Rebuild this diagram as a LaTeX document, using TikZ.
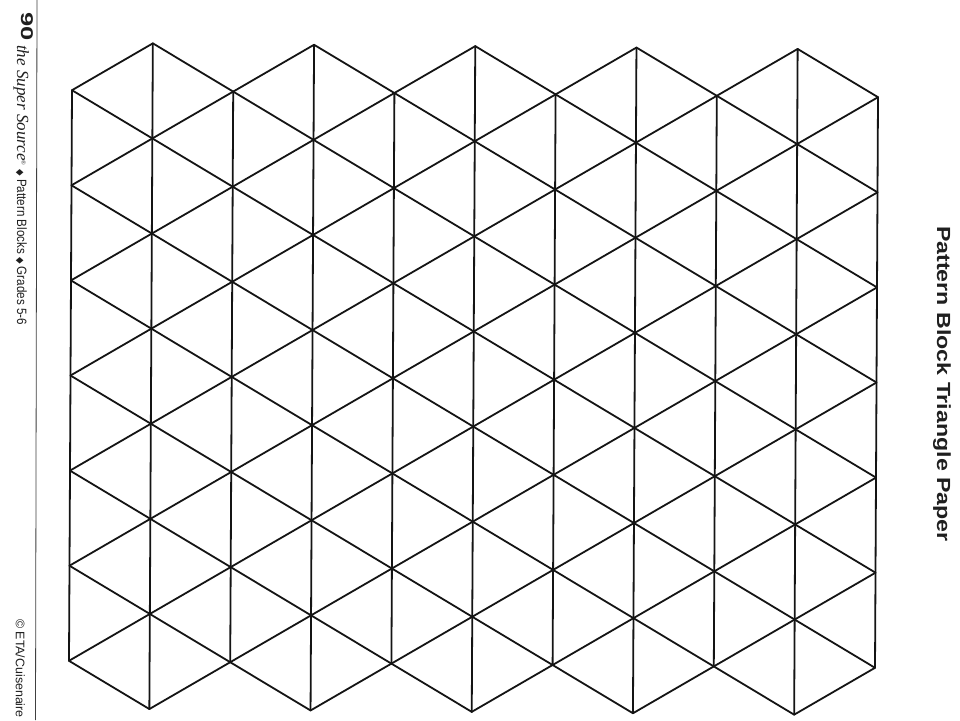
\documentclass[tikz,border=0pt]{standalone}
\usepackage{fontspec}
\usepackage{graphicx}
\setmainfont{Liberation Sans}
\newfontfamily\ttlfont{Liberation Sans}
\newfontfamily\brandfont{Liberation Serif}
\newfontfamily\diafont{DejaVu Sans}
\tikzset{
  gridline/.style={line width=1.8pt, line cap=round, line join=round, draw=black!92},
  rule/.style={line width=0.8pt, draw=black!75},
  sidetext/.style={rotate=-90, anchor=base west, inner sep=0pt, text=black!88}
}
\begin{document}
\begin{tikzpicture}[x=1pt,y=-1pt]
\useasboundingbox[fill=white] (0,0) rectangle (960,720);
% lattice coordinates
\foreach \i in {0,...,10}{
  \foreach \m in {0,...,14}{
    \coordinate (c-\i-\m) at ({72+80.6*\i-0.25*(\m-1)}, {90.2+0.7*\i+47.55*(\m-1)});
  }
}
% vertical lines
\foreach \i in {0,2,...,10}{ \draw[gridline] (c-\i-1) -- (c-\i-13); }
\foreach \i in {1,3,...,9}{ \draw[gridline] (c-\i-0) -- (c-\i-14); }
% diagonals from even columns
\foreach \i in {0,2,...,8}{
  \foreach \m in {1,3,...,13}{
    \pgfmathtruncatemacro\a{\i+1}
    \pgfmathtruncatemacro\p{\m-1}
    \pgfmathtruncatemacro\q{\m+1}
    \draw[gridline] (c-\i-\m) -- (c-\a-\p);
    \draw[gridline] (c-\i-\m) -- (c-\a-\q);
  }
}
% diagonals from odd columns
\foreach \i in {1,3,...,9}{
  \foreach \m in {0,2,...,14}{
    \pgfmathtruncatemacro\a{\i+1}
    \pgfmathtruncatemacro\p{\m-1}
    \pgfmathtruncatemacro\q{\m+1}
    \ifnum\m>1 \draw[gridline] (c-\i-\m) -- (c-\a-\p); \fi
    \ifnum\m<13 \draw[gridline] (c-\i-\m) -- (c-\a-\q); \fi
  }
}
% title
\node[sidetext, font=\ttlfont\bfseries\fontsize{19}{22}\selectfont] (title) at (937,226)
  {\scalebox{1.22}[1]{Pattern Block Triangle Paper}};
% footer rule
\coordinate (ruletop) at (37,0);
\coordinate (rulebot) at (35.5,720);
\draw[rule] (ruletop) -- (rulebot);
% footer texts
\node[sidetext, font=\bfseries\fontsize{17}{20}\selectfont] (pagenum) at (21,12)
  {\scalebox{1.5}[1]{90}};
\node[sidetext, font=\brandfont\itshape\fontsize{17}{20}\selectfont] (brand) at (17,45)
  {the Super Source\raisebox{0.6ex}{\fontsize{6}{7}\selectfont\textregistered}};
\node[sidetext, font=\fontsize{13.5}{16}\selectfont] (series) at (17,169)
  {\scalebox{0.86}[1]{{\diafont\fontsize{10}{11}\selectfont ◆} Pattern Blocks {\diafont\fontsize{10}{11}\selectfont ◆} Grades 5-6}};
\node[sidetext, font=\fontsize{12.4}{15}\selectfont] (copy) at (16,619)
  {© ETA/Cuisenaire};
\end{tikzpicture}
\end{document}
